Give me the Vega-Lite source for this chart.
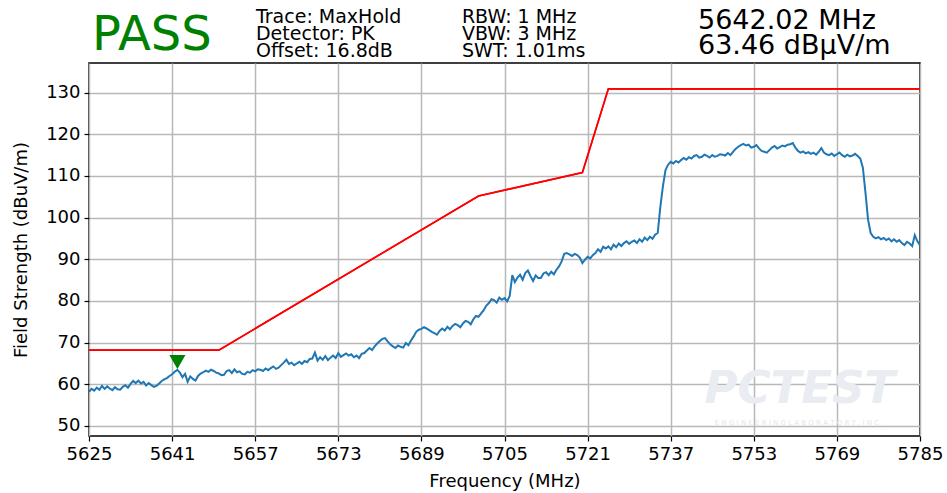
{
  "$schema": "https://vega.github.io/schema/vega-lite/v6.json",
  "autosize": "none",
  "width": 831,
  "height": 373,
  "padding": {"left": 89, "top": 63, "right": 27, "bottom": 57},
  "background": "white",
  "config": {
    "view": {"stroke": "black", "strokeWidth": 1.5},
    "font": "DejaVu Sans",
    "axis": {
      "labelFont": "DejaVu Sans", "labelFontSize": 18, "labelColor": "black",
      "titleFont": "DejaVu Sans", "titleFontSize": 18, "titleFontWeight": "normal", "titleColor": "black",
      "tickColor": "black", "tickSize": 5, "tickWidth": 1.2, "domain": false, "grid": true,
      "gridColor": "#b8b8b8", "gridWidth": 1.5, "labelPadding": 4, "labelFlush": false, "labelOverlap": false
    }
  },
  "datasets": {
    "trace": [
      {"f":5625,"v":58.2},{"f":5625.5,"v":58.9},{"f":5626,"v":58.5},{"f":5626.5,"v":59.2},{"f":5627,"v":58.7},{"f":5627.5,"v":59.6},
      {"f":5628,"v":58.9},{"f":5628.5,"v":59.5},{"f":5629,"v":59.0},{"f":5629.5,"v":58.6},{"f":5630,"v":59.3},{"f":5630.5,"v":58.8},
      {"f":5631,"v":58.7},{"f":5631.5,"v":59.4},{"f":5632,"v":59.8},{"f":5632.5,"v":59.2},{"f":5633,"v":60.1},{"f":5633.5,"v":60.8},
      {"f":5634,"v":60.3},{"f":5634.5,"v":60.9},{"f":5635,"v":60.2},{"f":5635.5,"v":60.6},{"f":5636,"v":59.7},{"f":5636.5,"v":60.3},
      {"f":5637,"v":59.8},{"f":5637.5,"v":59.4},{"f":5638,"v":59.6},{"f":5638.5,"v":60.2},{"f":5639,"v":60.8},{"f":5639.5,"v":61.2},
      {"f":5640,"v":61.5},{"f":5640.5,"v":62.0},{"f":5641,"v":62.4},{"f":5641.5,"v":63.0},{"f":5642,"v":63.46},{"f":5642.5,"v":62.8},
      {"f":5643,"v":61.7},{"f":5643.5,"v":62.5},{"f":5644,"v":60.6},{"f":5644.5,"v":61.9},{"f":5645,"v":61.3},{"f":5645.5,"v":60.9},
      {"f":5646,"v":62.0},{"f":5646.5,"v":62.6},{"f":5647,"v":62.9},{"f":5647.5,"v":63.3},{"f":5648,"v":63.0},{"f":5648.5,"v":63.5},
      {"f":5649,"v":63.2},{"f":5649.5,"v":62.8},{"f":5650,"v":62.6},{"f":5650.5,"v":62.2},{"f":5651,"v":62.3},{"f":5651.5,"v":63.2},
      {"f":5652,"v":63.4},{"f":5652.5,"v":62.7},{"f":5653,"v":63.6},{"f":5653.5,"v":62.9},{"f":5654,"v":63.1},{"f":5654.5,"v":62.5},
      {"f":5655,"v":62.4},{"f":5655.5,"v":63.0},{"f":5656,"v":62.8},{"f":5656.5,"v":63.4},{"f":5657,"v":63.1},{"f":5657.5,"v":63.6},
      {"f":5658,"v":63.5},{"f":5658.5,"v":63.2},{"f":5659,"v":63.8},{"f":5659.5,"v":63.4},{"f":5660,"v":63.9},{"f":5660.5,"v":64.3},
      {"f":5661,"v":63.7},{"f":5661.5,"v":64.0},{"f":5662,"v":64.6},{"f":5662.5,"v":65.2},{"f":5663,"v":65.9},{"f":5663.5,"v":64.9},
      {"f":5664,"v":65.2},{"f":5664.5,"v":64.6},{"f":5665,"v":65.0},{"f":5665.5,"v":65.4},{"f":5666,"v":64.9},{"f":5666.5,"v":65.6},
      {"f":5667,"v":65.3},{"f":5667.5,"v":66.1},{"f":5668,"v":66.2},{"f":5668.5,"v":67.6},{"f":5669,"v":65.7},{"f":5669.5,"v":66.5},
      {"f":5670,"v":65.9},{"f":5670.5,"v":66.8},{"f":5671,"v":65.8},{"f":5671.5,"v":66.4},{"f":5672,"v":66.9},{"f":5672.5,"v":66.3},
      {"f":5673,"v":67.5},{"f":5673.5,"v":66.6},{"f":5674,"v":67.0},{"f":5674.5,"v":67.4},{"f":5675,"v":66.9},{"f":5675.5,"v":67.2},
      {"f":5676,"v":66.5},{"f":5676.5,"v":66.9},{"f":5677,"v":66.3},{"f":5677.5,"v":67.3},{"f":5678,"v":67.5},{"f":5678.5,"v":68.1},
      {"f":5679,"v":68.7},{"f":5679.5,"v":68.2},{"f":5680,"v":69.1},{"f":5680.5,"v":69.8},{"f":5681,"v":70.4},{"f":5681.5,"v":70.9},
      {"f":5682,"v":71.1},{"f":5682.5,"v":70.3},{"f":5683,"v":69.6},{"f":5683.5,"v":69.1},{"f":5684,"v":68.7},{"f":5684.5,"v":69.3},
      {"f":5685,"v":69.0},{"f":5685.5,"v":68.8},{"f":5686,"v":69.9},{"f":5686.5,"v":69.4},{"f":5687,"v":70.5},{"f":5687.5,"v":71.5},
      {"f":5688,"v":72.6},{"f":5688.5,"v":73.1},{"f":5689,"v":73.3},{"f":5689.5,"v":73.7},{"f":5690,"v":73.4},{"f":5690.5,"v":73.0},
      {"f":5691,"v":72.6},{"f":5691.5,"v":72.3},{"f":5692,"v":71.9},{"f":5692.5,"v":72.8},{"f":5693,"v":73.4},{"f":5693.5,"v":72.9},
      {"f":5694,"v":73.8},{"f":5694.5,"v":73.2},{"f":5695,"v":74.0},{"f":5695.5,"v":74.5},{"f":5696,"v":74.2},{"f":5696.5,"v":73.7},
      {"f":5697,"v":74.6},{"f":5697.5,"v":75.2},{"f":5698,"v":75.0},{"f":5698.5,"v":74.4},{"f":5699,"v":75.6},{"f":5699.5,"v":76.4},
      {"f":5700,"v":76.2},{"f":5700.5,"v":77.0},{"f":5701,"v":77.8},{"f":5701.5,"v":78.9},{"f":5702,"v":79.5},{"f":5702.5,"v":80.4},
      {"f":5703,"v":80.2},{"f":5703.5,"v":79.6},{"f":5704,"v":80.8},{"f":5704.5,"v":80.3},{"f":5705,"v":80.7},{"f":5705.5,"v":79.9},
      {"f":5706,"v":81.2},{"f":5706.5,"v":86.2},{"f":5707,"v":84.5},{"f":5707.5,"v":85.6},{"f":5708,"v":86.3},{"f":5708.5,"v":85.1},
      {"f":5709,"v":86.7},{"f":5709.5,"v":87.3},{"f":5710,"v":86.0},{"f":5710.5,"v":84.8},{"f":5711,"v":86.1},{"f":5711.5,"v":85.5},
      {"f":5712,"v":85.5},{"f":5712.5,"v":86.6},{"f":5713,"v":86.9},{"f":5713.5,"v":86.2},{"f":5714,"v":87.0},{"f":5714.5,"v":86.4},
      {"f":5715,"v":87.5},{"f":5715.5,"v":88.3},{"f":5716,"v":89.5},{"f":5716.5,"v":91.3},{"f":5717,"v":91.5},{"f":5717.5,"v":91.2},
      {"f":5718,"v":90.8},{"f":5718.5,"v":91.3},{"f":5719,"v":91.0},{"f":5719.5,"v":90.4},{"f":5720,"v":89.1},{"f":5720.5,"v":89.9},
      {"f":5721,"v":90.6},{"f":5721.5,"v":90.2},{"f":5722,"v":91.0},{"f":5722.5,"v":91.5},{"f":5723,"v":92.4},{"f":5723.5,"v":91.8},
      {"f":5724,"v":93.0},{"f":5724.5,"v":92.6},{"f":5725,"v":93.1},{"f":5725.5,"v":92.4},{"f":5726,"v":93.5},{"f":5726.5,"v":92.9},
      {"f":5727,"v":93.8},{"f":5727.5,"v":93.2},{"f":5728,"v":93.9},{"f":5728.5,"v":94.3},{"f":5729,"v":93.7},{"f":5729.5,"v":94.2},
      {"f":5730,"v":94.5},{"f":5730.5,"v":93.9},{"f":5731,"v":94.8},{"f":5731.5,"v":94.2},{"f":5732,"v":95.2},{"f":5732.5,"v":94.6},
      {"f":5733,"v":95.4},{"f":5733.5,"v":94.9},{"f":5734,"v":95.9},{"f":5734.5,"v":96.3},{"f":5735,"v":102.5},{"f":5735.5,"v":107.5},
      {"f":5736,"v":111.4},{"f":5736.5,"v":112.7},{"f":5737,"v":113.4},{"f":5737.5,"v":113.0},{"f":5738,"v":113.6},{"f":5738.5,"v":113.2},
      {"f":5739,"v":113.8},{"f":5739.5,"v":114.3},{"f":5740,"v":113.9},{"f":5740.5,"v":114.5},{"f":5741,"v":114.2},{"f":5741.5,"v":114.8},
      {"f":5742,"v":115.0},{"f":5742.5,"v":114.4},{"f":5743,"v":114.6},{"f":5743.5,"v":115.1},{"f":5744,"v":114.8},{"f":5744.5,"v":114.4},
      {"f":5745,"v":115.0},{"f":5745.5,"v":114.6},{"f":5746,"v":114.8},{"f":5746.5,"v":115.2},{"f":5747,"v":115.1},{"f":5747.5,"v":114.9},
      {"f":5748,"v":115.5},{"f":5748.5,"v":115.0},{"f":5749,"v":115.8},{"f":5749.5,"v":116.5},{"f":5750,"v":117.0},{"f":5750.5,"v":117.4},
      {"f":5751,"v":117.7},{"f":5751.5,"v":117.3},{"f":5752,"v":117.5},{"f":5752.5,"v":116.8},{"f":5753,"v":117.0},{"f":5753.5,"v":117.4},
      {"f":5754,"v":116.6},{"f":5754.5,"v":116.0},{"f":5755,"v":115.8},{"f":5755.5,"v":115.6},{"f":5756,"v":116.2},{"f":5756.5,"v":116.8},
      {"f":5757,"v":117.2},{"f":5757.5,"v":116.6},{"f":5758,"v":116.9},{"f":5758.5,"v":117.3},{"f":5759,"v":117.1},{"f":5759.5,"v":117.5},
      {"f":5760,"v":117.6},{"f":5760.5,"v":117.9},{"f":5761,"v":116.8},{"f":5761.5,"v":116.0},{"f":5762,"v":115.6},{"f":5762.5,"v":115.9},
      {"f":5763,"v":115.4},{"f":5763.5,"v":115.7},{"f":5764,"v":115.3},{"f":5764.5,"v":115.6},{"f":5765,"v":115.1},{"f":5765.5,"v":115.8},
      {"f":5766,"v":116.7},{"f":5766.5,"v":115.6},{"f":5767,"v":115.2},{"f":5767.5,"v":115.0},{"f":5768,"v":115.4},{"f":5768.5,"v":114.8},
      {"f":5769,"v":115.2},{"f":5769.5,"v":115.6},{"f":5770,"v":115.0},{"f":5770.5,"v":114.6},{"f":5771,"v":115.1},{"f":5771.5,"v":114.7},
      {"f":5772,"v":114.9},{"f":5772.5,"v":115.3},{"f":5773,"v":114.8},{"f":5773.5,"v":114.2},{"f":5774,"v":112.0},{"f":5774.5,"v":106.0},
      {"f":5775,"v":99.5},{"f":5775.5,"v":96.3},{"f":5776,"v":95.4},{"f":5776.5,"v":95.0},{"f":5777,"v":95.3},{"f":5777.5,"v":94.8},
      {"f":5778,"v":95.1},{"f":5778.5,"v":94.6},{"f":5779,"v":95.0},{"f":5779.5,"v":94.3},{"f":5780,"v":94.8},{"f":5780.5,"v":94.2},
      {"f":5781,"v":94.6},{"f":5781.5,"v":93.9},{"f":5782,"v":93.4},{"f":5782.5,"v":94.2},{"f":5783,"v":93.8},{"f":5783.5,"v":93.2},
      {"f":5784,"v":95.8},{"f":5784.5,"v":94.3},{"f":5785,"v":93.4}
    ],
    "limit": [
      {"f":5625,"v":68.2},{"f":5650,"v":68.2},{"f":5700,"v":105.2},{"f":5720,"v":110.8},{"f":5725,"v":130.9},{"f":5785,"v":130.9}
    ],
    "marker": [{"f":5642.02,"v":63.46}]
  },
  "layer": [
    {
      "data": {"name": "limit"},
      "mark": {"type": "line", "color": "red", "strokeWidth": 1.6, "clip": true},
      "encoding": {
        "x": {"field": "f", "type": "quantitative", "scale": {"domain": [5625, 5785], "nice": false, "zero": false},
          "axis": {"values": [5625,5641,5657,5673,5689,5705,5721,5737,5753,5769,5785], "title": "Frequency (MHz)", "titlePadding": 9, "format": "d", "grid": true}},
        "y": {"field": "v", "type": "quantitative", "scale": {"domain": [47.6, 137.1], "nice": false, "zero": false},
          "axis": {"values": [50,60,70,80,90,100,110,120,130], "title": "Field Strength (dBuV/m)", "titlePadding": 15, "grid": true}}
      }
    },
    {
      "data": {"values": [{}]},
      "mark": {"type": "text", "text": "PCTEST", "font": "DejaVu Sans", "fontSize": 45, "fontWeight": "bold", "fontStyle": "italic", "color": "#e9ecf1", "align": "left", "baseline": "alphabetic"},
      "encoding": {"x": {"datum": 5743.5, "type": "quantitative"}, "y": {"datum": 55.5, "type": "quantitative"}}
    },
    {
      "data": {"values": [{}]},
      "mark": {"type": "text", "text": "E N G I N E E R I N G   L A B O R A T O R Y ,   I N C .", "font": "DejaVu Sans", "fontSize": 7, "color": "#e3e6eb", "align": "left", "baseline": "alphabetic"},
      "encoding": {"x": {"datum": 5745.5, "type": "quantitative"}, "y": {"datum": 50.3, "type": "quantitative"}}
    },
    {
      "data": {"name": "limit"},
      "mark": {"type": "line", "color": "red", "strokeWidth": 1.6, "clip": true},
      "encoding": {
        "x": {"field": "f", "type": "quantitative"},
        "y": {"field": "v", "type": "quantitative"}
      }
    },
    {
      "data": {"name": "trace"},
      "mark": {"type": "line", "color": "#1f77b4", "strokeWidth": 2, "clip": true},
      "encoding": {
        "x": {"field": "f", "type": "quantitative"},
        "y": {"field": "v", "type": "quantitative"}
      }
    },
    {
      "data": {"name": "marker"},
      "mark": {"type": "point", "shape": "triangle-down", "filled": true, "color": "#008000", "opacity": 1, "size": 260, "yOffset": -8},
      "encoding": {
        "x": {"field": "f", "type": "quantitative"},
        "y": {"field": "v", "type": "quantitative"}
      }
    },
    {
      "data": {"values": [{}]},
      "mark": {"type": "text", "text": "PASS", "font": "DejaVu Sans", "fontSize": 48, "color": "#008000", "align": "left", "baseline": "alphabetic"},
      "encoding": {"x": {"datum": 5625.6, "type": "quantitative"}, "y": {"datum": 140.3, "type": "quantitative"}}
    },
    {
      "data": {"values": [{}]},
      "mark": {"type": "text", "text": ["Trace: MaxHold", "Detector: PK", "Offset: 16.8dB"], "lineHeight": 17, "font": "DejaVu Sans", "fontSize": 19, "color": "black", "align": "left", "baseline": "alphabetic"},
      "encoding": {"x": {"datum": 5657.15, "type": "quantitative"}, "y": {"datum": 146.7, "type": "quantitative"}}
    },
    {
      "data": {"values": [{}]},
      "mark": {"type": "text", "text": ["RBW: 1 MHz", "VBW: 3 MHz", "SWT: 1.01ms"], "lineHeight": 17, "font": "DejaVu Sans", "fontSize": 19, "color": "black", "align": "left", "baseline": "alphabetic"},
      "encoding": {"x": {"datum": 5696.8, "type": "quantitative"}, "y": {"datum": 146.7, "type": "quantitative"}}
    },
    {
      "data": {"values": [{}]},
      "mark": {"type": "text", "text": ["5642.02 MHz", "63.46 dBµV/m"], "lineHeight": 25, "font": "DejaVu Sans", "fontSize": 27, "color": "black", "align": "left", "baseline": "alphabetic"},
      "encoding": {"x": {"datum": 5742.25, "type": "quantitative"}, "y": {"datum": 145.3, "type": "quantitative"}}
    }
  ]
}
